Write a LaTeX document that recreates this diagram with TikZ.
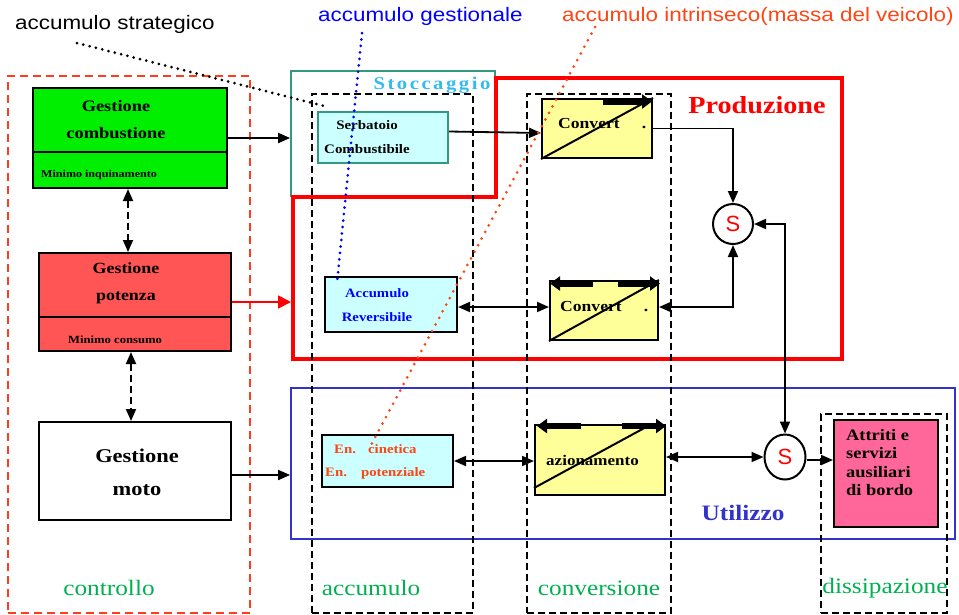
\documentclass[tikz,border=0pt]{standalone}
\usepackage{fontspec}
\setmainfont{Liberation Serif}[FakeStretch=1.15]
\newfontfamily\arl{Liberation Sans}[FakeStretch=1.15]
\newfontfamily\arlplain{Liberation Sans}
\newfontfamily\stocfont{Liberation Serif}[FakeStretch=1.15,LetterSpace=14]
\usetikzlibrary{arrows.meta,shapes.geometric,calc}
\definecolor{ctrlred}{RGB}{255,60,30}
\definecolor{gboxgreen}{RGB}{0,238,0}
\definecolor{potred}{RGB}{255,85,85}
\definecolor{lblgreen}{RGB}{0,176,80}
\definecolor{lcyan}{RGB}{204,255,255}
\definecolor{tealb}{RGB}{51,153,128}
\definecolor{stoccyan}{RGB}{51,187,238}
\definecolor{utilblue}{RGB}{51,51,204}
\definecolor{gesblue}{RGB}{0,0,255}
\definecolor{intorange}{RGB}{255,69,20}
\definecolor{convyellow}{RGB}{255,255,153}
\definecolor{attrpink}{RGB}{255,102,153}
\begin{document}
\begin{tikzpicture}[x=1pt,y=-1pt,
  box/.style={draw, line width=2pt, rectangle, inner sep=0pt},
  frame/.style={draw, line width=1.8pt, rectangle, inner sep=0pt},
  col/.style={draw, line width=1.6pt, dash pattern=on 7pt off 4pt, rectangle, inner sep=0pt},
  txt/.style={inner sep=0pt},
  ar/.style={line width=1.8pt, -{Triangle[length=12pt,width=10pt]}},
  dar/.style={line width=1.8pt, {Triangle[length=12pt,width=10pt]}-{Triangle[length=12pt,width=10pt]}},
  dashar/.style={dar, dash pattern=on 7pt off 4pt},
  bar/.style={line width=6.5pt, -{Triangle[length=10pt,width=14pt]}},
  diag/.style={line width=2pt},
  dotline/.style={line width=3pt, line cap=round, dash pattern=on 0pt off 6.5pt},
  snode/.style={draw, line width=2pt, fill=white, inner sep=0pt, text=red, font=\arlplain\fontsize{22}{22}\selectfont}
]
\useasboundingbox (0,0) rectangle (959,614);

% region frames
\node[frame, draw=ctrlred, line width=1.6pt, dash pattern=on 8pt off 5pt, minimum width=242pt, minimum height=537pt] (ctrl) at (129,344.5) {};
\node[frame, draw=tealb, minimum width=204pt, minimum height=125pt] (stocc) at (393,133.5) {};
\draw[red, line width=4.5pt] (496,78) -- (842,78) -- (842,359) -- (293,359) -- (293,197) -- (496,197) -- cycle;
\coordinate (prodW) at (291,303);
\node[frame, draw=utilblue, minimum width=664pt, minimum height=151pt] (util) at (623,463.5) {};

% columns
\node[col, minimum width=161pt, minimum height=519pt] (accol) at (392.5,353.5) {};
\node[col, minimum width=144pt, minimum height=519pt] (convcol) at (599,353.5) {};
\node[col, minimum width=126pt, minimum height=199pt] (discol) at (884,513.5) {};

% control boxes
\node[box, fill=gboxgreen, minimum width=194pt, minimum height=100pt] (comb) at (130,138) {};
\draw[line width=2pt] (comb.west |- 0,152) -- (comb.east |- 0,152);
\node[txt, align=center, font=\bfseries\fontsize{16}{27}\selectfont] (combT) at (116,120) {Gestione\\combustione};
\node[txt, anchor=west, font=\bfseries\fontsize{10.5}{12}\selectfont] (combM) at (41,175) {Minimo inquinamento};

\node[box, fill=potred, minimum width=192pt, minimum height=98pt] (pot) at (135,302) {};
\draw[line width=2pt] (pot.west |- 0,317) -- (pot.east |- 0,317);
\node[txt, align=center, font=\bfseries\fontsize{15.6}{27}\selectfont] (potT) at (126,283) {Gestione\\potenza};
\node[txt, anchor=west, font=\bfseries\fontsize{11}{12}\selectfont] (potM) at (68,340) {Minimo consumo};

\node[box, fill=white, minimum width=192pt, minimum height=98pt] (moto) at (135,471) {};
\node[txt, align=center, font=\bfseries\fontsize{19.5}{33}\selectfont] (motoT) at (137,472) {Gestione\\moto};

% storage boxes
\node[box, draw=tealb, fill=lcyan, minimum width=130pt, minimum height=51pt] (serb) at (383,137.5) {};
\node[txt, align=center, font=\bfseries\fontsize{13}{24}\selectfont] (serbT) at (367,137) {Serbatoio\\Combustibile};
\node[box, fill=lcyan, minimum width=132pt, minimum height=55pt] (accrev) at (391,304.5) {};
\node[txt, align=center, text=gesblue, font=\bfseries\fontsize{12.8}{24}\selectfont] (accrevT) at (377,305) {Accumulo\\Reversibile};
\node[box, fill=lcyan, minimum width=131pt, minimum height=52pt] (encin) at (387.5,461) {};
\node[txt, anchor=west, text=intorange, font=\bfseries\fontsize{12.9}{14}\selectfont] (encinA) at (334,449) {En.\hspace{12pt}cinetica};
\node[txt, anchor=west, text=intorange, font=\bfseries\fontsize{12.9}{14}\selectfont] (encinB) at (325,473) {En.\hspace{14pt}potenziale};

% converters
\node[box, fill=convyellow, minimum width=110pt, minimum height=59pt] (conv1) at (597,128.5) {};
\node[txt, anchor=west, font=\bfseries\fontsize{15.3}{16}\selectfont] (conv1T) at (558,124) {Convert\hspace{22pt}.};
\draw[diag] (conv1.south west) -- (conv1.north east);
\draw[bar] (603,101.5) -- (652,101.5);

\node[box, fill=convyellow, minimum width=108pt, minimum height=59pt] (conv2) at (604,310.5) {};
\node[txt, anchor=west, font=\bfseries\fontsize{15.3}{16}\selectfont] (conv2T) at (560,307) {Convert\hspace{22pt}.};
\draw[diag] (conv2.south west) -- (conv2.north east);
\draw[bar] (593,283.5) -- (550,283.5);
\draw[bar] (618,283.5) -- (660,283.5);

\node[box, fill=convyellow, minimum width=130pt, minimum height=70pt] (azion) at (600,460) {};
\node[txt, anchor=west, font=\bfseries\fontsize{14.8}{16}\selectfont] (azionT) at (546,460) {azionamento};
\draw[diag] ([yshift=8pt]azion.south west) -- (648,426);
\draw[bar] (581,426) -- (537,426);
\draw[bar] (622,426) -- (666,426);

% summing nodes
\node[snode, circle, minimum size=40pt] (s1) at (733,224) {S};
\node[snode, ellipse, minimum width=41pt, minimum height=45pt] (s2) at (785,457) {S};

% dissipation
\node[box, fill=attrpink, minimum width=104pt, minimum height=107pt] (attr) at (886,473.5) {};
\node[txt, anchor=west, align=left, font=\bfseries\fontsize{16}{18.3}\selectfont] (attrT) at (846,462.5) {Attriti e\\servizi\\ausiliari\\di bordo};

% labels
\node[txt, text=stoccyan, font=\stocfont\bfseries\fontsize{18}{20}\selectfont] (stoT) at (432,85) {Stoccaggio};
\node[txt, text=red, font=\bfseries\fontsize{24.5}{26}\selectfont] (prodT) at (757,105) {Produzione};
\node[txt, text=utilblue, font=\bfseries\fontsize{22}{24}\selectfont] (utilT) at (743,513) {Utilizzo};
\node[txt, text=lblgreen, font=\fontsize{22}{24}\selectfont] (lctrl) at (109,588) {controllo};
\node[txt, text=lblgreen, font=\fontsize{22}{24}\selectfont] (lacc) at (371,588) {accumulo};
\node[txt, text=lblgreen, font=\fontsize{22}{24}\selectfont] (lconv) at (599,588) {conversione};
\node[txt, text=lblgreen, font=\fontsize{22}{24}\selectfont] (ldis) at (885,588) {dissipazione};
\node[txt, anchor=west, font=\arl\fontsize{19.5}{22}\selectfont] (lstr) at (15,24) {accumulo strategico};
\node[txt, anchor=west, text=gesblue, font=\arl\fontsize{19.5}{22}\selectfont] (lges) at (318,16) {accumulo gestionale};
\node[txt, anchor=west, text=intorange, font=\arl\fontsize{19.5}{22}\selectfont] (lint) at (562,16) {accumulo intrinseco(massa del veicolo)};

% connectors
\draw[ar] (comb.east) -- (comb.east -| stocc.west);
\draw[line width=1.8pt, red, -{Triangle[length=13pt,width=13pt]}] (pot.east) -- (pot.east -| prodW);
\coordinate (mA) at ($(moto.east)+(0,4)$);
\draw[ar] (mA) -- (mA -| util.west);
\draw[dashar] ([xshift=-2pt]comb.south) -- ([xshift=-7pt]pot.north);
\draw[dashar] ([xshift=-4pt]pot.south) -- ([xshift=-4pt]moto.north);
\draw[ar] ([yshift=6pt]serb.east) -- ([yshift=-4.5pt]conv1.west);
\draw[ar] (conv1.east) -| (s1.north);
\draw[dar] ([yshift=-2.5pt]accrev.east) -- ([yshift=3.5pt]conv2.west);
\draw[dar] ([yshift=3.5pt]conv2.east) -| (s1.south);
\draw[dar] (s1.east) -- (s1.east -| s2.north) -- (s2.north);
\draw[dar] (encin.east) -- (encin.east -| azion.west);
\draw[dar] ([yshift=3pt]azion.east) -- (s2.west);
\draw[ar] ([yshift=-3pt]s2.east) -- ([yshift=13.5pt]attr.west);

% leader lines
\coordinate (strA) at (77,43);
\coordinate (strB) at (328,107);
\coordinate (gesA) at (362,33);
\coordinate (gesB) at (337,283);
\coordinate (intA) at (595,27);
\coordinate (intB) at (371,445);
\draw[dotline] (strA) -- (strB);
\draw[dotline, gesblue] (gesA) -- (gesB);
\draw[dotline, intorange, dash pattern=on 0pt off 7.5pt] (intA) -- (intB);
\end{tikzpicture}
\end{document}
